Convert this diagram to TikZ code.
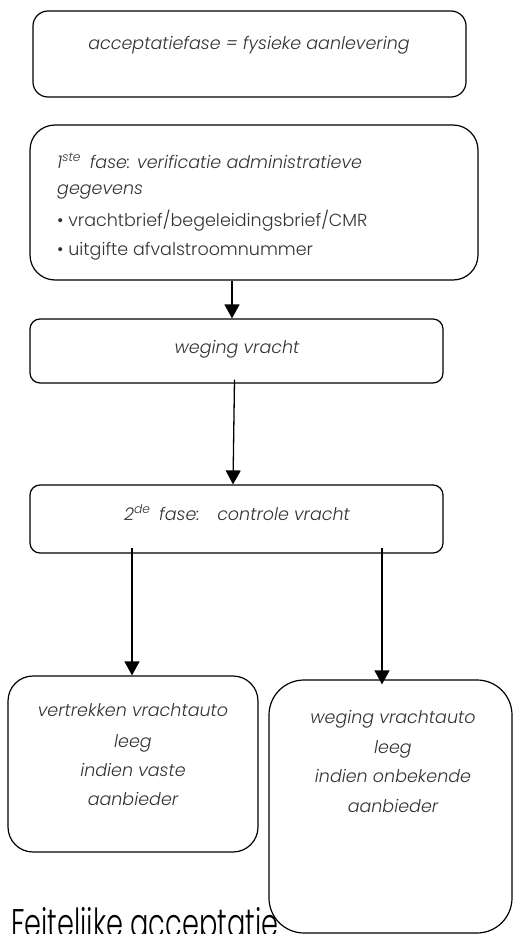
\documentclass[tikz,border=0pt]{standalone}
\usepackage{fontspec}
\setmainfont{Poppins}[UprightFont=* Light, ItalicFont=* Light Italic]
\newfontfamily\titlefont[FakeStretch=0.68, UprightFont=* Light]{Poppins}
\usetikzlibrary{arrows.meta}
\definecolor{txt}{HTML}{333333}
\tikzset{
  box/.style={draw=black, line width=1.2pt, inner sep=0pt},
  lbl/.style={anchor=base, inner sep=0pt, text=txt, font=\fontsize{17.5}{20}\selectfont\itshape},
  lbll/.style={anchor=base west, inner sep=0pt, text=txt, font=\fontsize{17.5}{20}\selectfont\itshape},
  bul/.style={anchor=base west, inner sep=0pt, text=txt, font=\fontsize{17.5}{20}\selectfont},
  arr/.style={line width=1.3pt, -{Triangle[length=14pt,width=15pt]}},
}
\begin{document}
\begin{tikzpicture}[x=1pt,y=-1pt]
\useasboundingbox (0,0) rectangle (513,934);
\clip (0,0) rectangle (513,934);
% boxes
\node[box, rounded corners=15pt, minimum width=433pt, minimum height=86pt] (b1) at (249.5,54) {};
\node[box, rounded corners=25pt, minimum width=448pt, minimum height=155pt] (b2) at (254,202.5) {};
\node[box, rounded corners=10pt, minimum width=413pt, minimum height=64pt] (b3) at (236.5,351) {};
\node[box, rounded corners=10pt, minimum width=413pt, minimum height=68pt] (b4) at (236.5,519) {};
\node[box, rounded corners=25pt, minimum width=250pt, minimum height=176pt] (b5) at (133,764) {};
\node[box, rounded corners=35pt, minimum width=243pt, minimum height=253pt] (b6) at (390.5,806.5) {};
% texts
\node[lbl] (t1) at (249,50) {acceptatiefase = fysieke aanlevering};
\node[lbll] (t2a) at (57,168) {1\textsuperscript{ste}\enspace fase: verificatie administratieve};
\node[lbll] (t2b) at (57,194) {gegevens};
\node[bul] (t2c) at (57,226) {\textbullet\ vrachtbrief/begeleidingsbrief/CMR};
\node[bul] (t2d) at (57,255) {\textbullet\ uitgifte afvalstroomnummer};
\node[lbl] (t3) at (237,353) {weging vracht};
\node[lbl] (t4) at (237,520) {2\textsuperscript{de}\enspace fase:\quad controle vracht};
\node[lbl] (t5a) at (133,716) {vertrekken vrachtauto};
\node[lbl] (t5b) at (133,747) {leeg};
\node[lbl] (t5c) at (133,776) {indien vaste};
\node[lbl] (t5d) at (133,805) {aanbieder};
\node[lbl] (t6a) at (393,723) {weging vrachtauto};
\node[lbl] (t6b) at (393,753) {leeg};
\node[lbl] (t6c) at (393,782) {indien onbekende};
\node[lbl] (t6d) at (393,812) {aanbieder};
\node[anchor=base west, inner sep=0pt, text=black, font=\titlefont\fontsize{40}{44}\selectfont] (title) at (11,937) {Feitelijke acceptatie};
% arrows
\draw[arr] ([xshift=-22pt]b2.south) -- ([xshift=-4.5pt]b3.north);
\draw[arr] ([xshift=-2pt,yshift=4pt]b3.south) -- ([xshift=-3.5pt]b4.north);
\draw[arr] ([xshift=-104.5pt,yshift=6pt]b4.south) -- ([xshift=-1pt]b5.north);
\draw[arr] ([xshift=145.5pt,yshift=6pt]b4.south) -- ([xshift=-8.5pt,yshift=-5pt]b6.north);
\end{tikzpicture}
\end{document}
